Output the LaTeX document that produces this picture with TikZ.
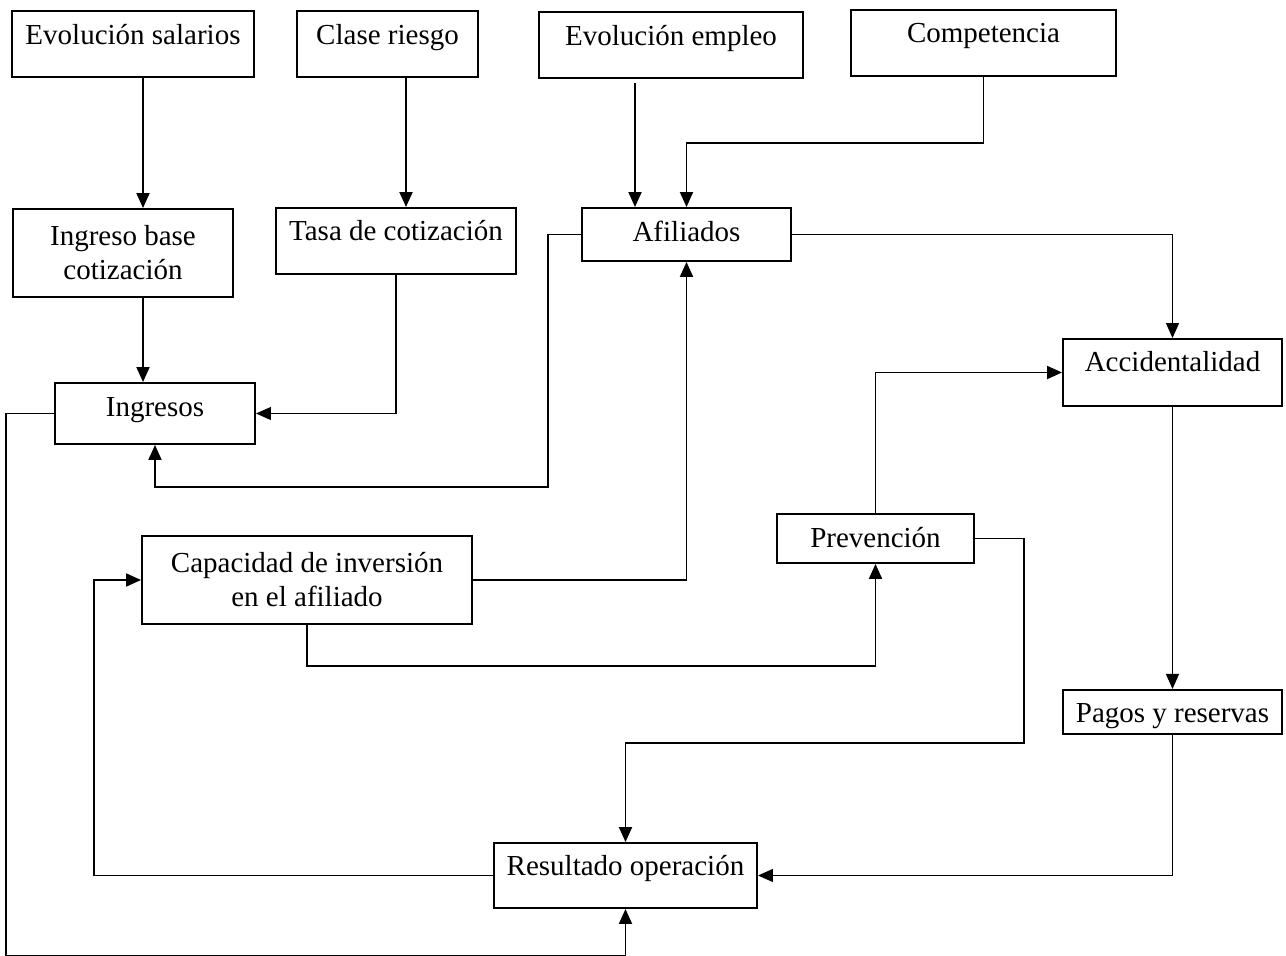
\documentclass[tikz,border=0pt]{standalone}
\usepackage{fontspec}
\setmainfont{Liberation Serif}
\usetikzlibrary{arrows.meta, positioning}

\tikzset{
    box/.style={
        rectangle, draw=black, line width=1.1pt, inner sep=2pt, align=center,
        font=\fontsize{16.5}{19.3}\selectfont
    },
    txt/.style={
        text height=0.44cm, text depth=#1
    },
    arrow/.style={
        line width=1.1pt, -{Triangle[length=3mm, width=2.6mm]}
    },
    thinarrow/.style={
        line width=0.6pt, -{Triangle[length=3mm, width=2.6mm]}
    }
}

\begin{document}
\begin{tikzpicture}

    \useasboundingbox (0,0) rectangle (25.72,-19.12);

    % Top row
    \node[box, txt=0.40cm, minimum width=4.84cm, minimum height=1.32cm] (salarios) at (2.66,-0.88) {Evolución salarios};
    \node[box, txt=0.40cm, minimum width=3.62cm, minimum height=1.32cm] (riesgo) at (7.75,-0.88) {Clase riesgo};
    \node[box, txt=0.40cm, minimum width=5.28cm, minimum height=1.32cm] (empleo) at (13.42,-0.90) {Evolución empleo};
    \node[box, txt=0.44cm, minimum width=5.30cm, minimum height=1.32cm] (competencia) at (19.67,-0.86) {Competencia};

    % Second row
    \node[box, minimum width=4.40cm, minimum height=1.76cm] (ibc) at (2.46,-5.06) {Ingreso base\\cotización};
    \node[box, txt=0.44cm, minimum width=4.80cm, minimum height=1.32cm] (tasa) at (7.92,-4.82) {Tasa de cotización};
    \node[box, txt=0.14cm, minimum width=4.18cm, minimum height=1.06cm] (afiliados) at (13.73,-4.69) {Afiliados};

    % Middle
    \node[box, txt=0.46cm, minimum width=4.38cm, minimum height=1.34cm] (accidentalidad) at (23.45,-7.45) {Accidentalidad};
    \node[box, txt=0.30cm, minimum width=4.00cm, minimum height=1.22cm] (ingresos) at (3.10,-8.27) {Ingresos};
    \node[box, txt=0.10cm, minimum width=3.94cm, minimum height=0.98cm] (prevencion) at (17.51,-10.77) {Prevención};
    \node[box, minimum width=6.60cm, minimum height=1.76cm] (capacidad) at (6.14,-11.60) {Capacidad de inversión\\en el afiliado};

    % Bottom
    \node[box, txt=0cm, minimum width=4.38cm, minimum height=0.88cm, below=5.64cm of accidentalidad] (pagos) {Pagos y reservas};
    \node[box, txt=0.46cm, minimum width=5.26cm, minimum height=1.30cm] (resultado) at (12.51,-17.51) {Resultado operación};

    % Relationships
    \draw[arrow] ([xshift=0.2cm]salarios.south) -- ([xshift=0.4cm]ibc.north);
    \draw[arrow] ([xshift=0.37cm]riesgo.south) -- ([xshift=0.2cm]tasa.north);
    \draw[arrow] ([xshift=-0.72cm, yshift=-0.08cm]empleo.south) -- ([xshift=-1.03cm]afiliados.north);
    \draw[arrow] (competencia.south) -- ++(0,-1.32) -| (afiliados.north);
    \draw[thinarrow] (afiliados.east) -| (accidentalidad.north);
    \draw[arrow] (afiliados.west) -- ++(-0.66,0) |- ([yshift=-0.84cm]ingresos.south) -- (ingresos.south);
    \draw[arrow] ([xshift=0.4cm]ibc.south) -- ([xshift=-0.24cm]ingresos.north);
    \draw[thinarrow] (tasa.south) |- (ingresos.east);
    \draw[arrow] (ingresos.west) -- ++(-0.96,0) |- ([yshift=-0.94cm]resultado.south) -- (resultado.south);
    \draw[arrow] (capacidad.east) -| (afiliados.south);
    \draw[arrow] (capacidad.south) -- ++(0,-0.82) -| (prevencion.south);
    \draw[arrow] (prevencion.north) |- (accidentalidad.west);
    \draw[arrow] (prevencion.east) -- ++(0.98,0) |- ([yshift=1.98cm]resultado.north) -- (resultado.north);
    \draw[thinarrow] (accidentalidad.south) -- (pagos.north);
    \draw[thinarrow] (pagos.south) |- (resultado.east);
    \draw[arrow] (resultado.west) -| ([xshift=-0.95cm]capacidad.west) -- (capacidad.west);

\end{tikzpicture}
\end{document}
